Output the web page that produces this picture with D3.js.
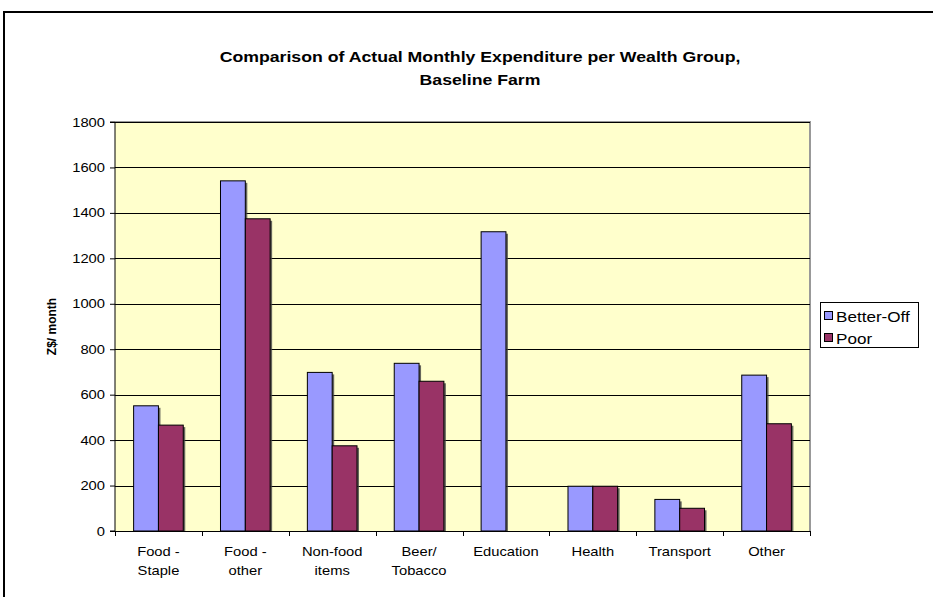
<!DOCTYPE html>
<html><head><meta charset="utf-8">
<script src="https://cdn.jsdelivr.net/npm/d3@7"></script>
<style>body{margin:0;background:#fff}svg{display:block;font-family:"Liberation Sans",Arial,sans-serif}</style>
</head><body><svg id="c" width="933" height="597"></svg>
<script>
const categories = [["Food -","Staple"],["Food -","other"],["Non-food","items"],["Beer/","Tobacco"],["Education"],["Health"],["Transport"],["Other"]];
const betterOff = [551, 1541, 698, 738, 1317, 197, 139, 686];
const poor = [466, 1374, 375, 659, 0, 197, 100, 472];
const seriesNames = ["Better-Off", "Poor"];
const seriesColors = ["#9999FF", "#993366"];
const yTicks = [0, 200, 400, 600, 800, 1000, 1200, 1400, 1600, 1800];

const SX = 1.18; // horizontal stretch of text in the reference
const svg = d3.select("#c");
const m = {left: 115, right: 810, top: 122, bottom: 531};

function stext(parent, x, y, str, size, opts = {}) {
  const t = parent.append("text")
    .attr("transform", `translate(${x},${y}) scale(${opts.sx || SX},1)`)
    .attr("font-size", size).attr("fill", "#000")
    .attr("text-anchor", opts.anchor || "start")
    .text(str);
  if (opts.bold) t.attr("font-weight", "bold");
  return t;
}

// outer chart border
svg.append("rect").attr("x", 4).attr("y", 12).attr("width", 1000).attr("height", 700)
  .attr("fill", "#fff").attr("stroke", "#000").attr("stroke-width", 2);

// title
stext(svg, 480, 62, "Comparison of Actual Monthly Expenditure per Wealth Group,", 15, {anchor: "middle", bold: true});
stext(svg, 480, 85, "Baseline Farm", 15, {anchor: "middle", bold: true});

const x = d3.scaleBand().domain(d3.range(categories.length)).range([m.left, m.right]);
const y = d3.scaleLinear().domain([0, 1800]).range([m.bottom, m.top]);

// plot area
svg.append("rect").attr("x", m.left).attr("y", m.top).attr("width", m.right - m.left).attr("height", m.bottom - m.top)
  .attr("fill", "#FFFFCC");
svg.append("path").attr("d", `M${m.left},${m.top}H${m.right}V${m.bottom}`)
  .attr("fill", "none").attr("stroke", "#999").attr("stroke-width", 2);

// gridlines
svg.append("g").selectAll("line").data(yTicks.filter(d => d > 0)).join("line")
  .attr("x1", m.left).attr("x2", m.right)
  .attr("y1", d => Math.round(y(d)) + 0.5).attr("y2", d => Math.round(y(d)) + 0.5)
  .attr("stroke", "#000").attr("stroke-width", 1);

// bars (gap width 150%)
const bw = x.bandwidth() / 3.5;
const data = [];
categories.forEach((c, i) => {
  [betterOff, poor].forEach((s, j) => { if (s[i] > 0) data.push({i, j, v: s[i]}); });
});
const barX = d => x(d.i) + (x.bandwidth() - 2 * bw) / 2 + d.j * bw;
svg.append("g").selectAll("rect").data(data).join("rect")
  .attr("x", d => barX(d) + 2).attr("y", d => y(d.v) + 2)
  .attr("width", bw).attr("height", d => Math.max(0, m.bottom - y(d.v) - 2))
  .attr("fill", "#404040").attr("opacity", 0.8);
svg.append("g").selectAll("rect").data(data).join("rect")
  .attr("x", d => barX(d)).attr("y", d => y(d.v))
  .attr("width", bw).attr("height", d => m.bottom - y(d.v))
  .attr("fill", d => seriesColors[d.j]).attr("stroke", "#000").attr("stroke-width", 1);

// y axis
const yAxis = d3.axisLeft(y).tickValues(yTicks).tickSize(5).tickPadding(5).tickFormat(d3.format("d"));
const ga = svg.append("g").attr("transform", `translate(${m.left},0)`).call(yAxis);
ga.select(".domain").attr("stroke", "#000").attr("d", `M-5,${m.top}H0V${m.bottom}H-5`);
ga.selectAll(".tick text").attr("font-size", 12.5).attr("font-family", "Liberation Sans, Arial, sans-serif")
  .attr("fill", "#000").attr("x", -10 / SX).attr("transform", `scale(${SX},1)`);

// x axis
const xg = svg.append("g");
xg.append("line").attr("x1", m.left).attr("x2", m.right).attr("y1", m.bottom + 0.5).attr("y2", m.bottom + 0.5).attr("stroke", "#000");
xg.selectAll("line.t").data(d3.range(categories.length + 1)).join("line").attr("class", "t")
  .attr("x1", i => Math.round(m.left + i * x.bandwidth()) + 0.5).attr("x2", i => Math.round(m.left + i * x.bandwidth()) + 0.5)
  .attr("y1", m.bottom).attr("y2", m.bottom + 5).attr("stroke", "#000");
categories.forEach((c, i) => {
  c.forEach((s, k) => stext(xg, x(i) + x.bandwidth() / 2, 556 + k * 19, s, 12.5, {anchor: "middle"}));
});

// y title
svg.append("text").attr("transform", `translate(56,${(m.top + m.bottom) / 2}) rotate(-90)`)
  .attr("text-anchor", "middle").attr("font-weight", "bold").attr("font-size", 12).text("Z$/ month");

// legend
const lg = svg.append("g");
lg.append("rect").attr("x", 820.5).attr("y", 302.5).attr("width", 98).attr("height", 45)
  .attr("fill", "#fff").attr("stroke", "#000");
seriesNames.forEach((n, k) => {
  lg.append("rect").attr("x", 824.5).attr("y", 311.5 + k * 22).attr("width", 8).attr("height", 8)
    .attr("fill", seriesColors[k]).attr("stroke", "#000");
  stext(lg, 836, 322 + k * 22, n, 14.5, {});
});
</script></body></html>
